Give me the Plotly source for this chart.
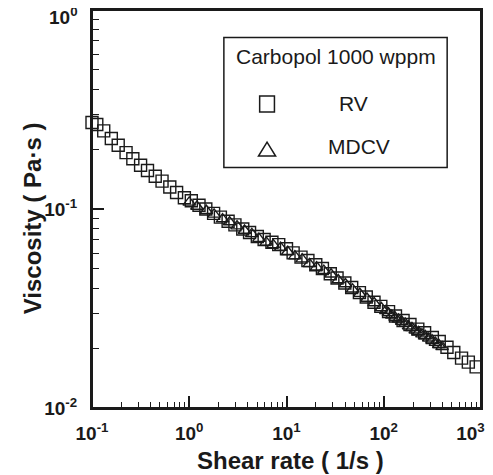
import plotly.graph_objects as go

rv_rate = [0.100, 0.112, 0.132, 0.158, 0.186, 0.224, 0.263, 0.316, 0.372, 0.447,
           0.525, 0.631, 0.741, 0.891, 1.05, 1.26, 1.48, 1.78, 2.09, 2.51,
           2.95, 3.55, 4.17, 5.01, 5.89, 7.08, 8.32, 10.0, 11.7, 14.1,
           16.6, 20.0, 23.4, 28.2, 33.1, 39.8, 46.8, 56.2, 66.1, 79.4,
           93.3, 112, 132, 158, 186, 224, 263, 316, 372, 447,
           525, 631, 741, 891, 1023]
rv_visc = [0.272, 0.266, 0.247, 0.226, 0.209, 0.192, 0.179, 0.166, 0.156, 0.146,
           0.138, 0.129, 0.121, 0.114, 0.110, 0.1045, 0.100, 0.0951, 0.0910, 0.0868,
           0.0832, 0.0794, 0.0762, 0.0727, 0.0703, 0.0681, 0.0662, 0.0631, 0.0602, 0.0573,
           0.0551, 0.0525, 0.0502, 0.0473, 0.0450, 0.0425, 0.0403, 0.0380, 0.0361, 0.0340,
           0.0324, 0.0305, 0.0290, 0.0275, 0.0263, 0.0249, 0.0239, 0.0226, 0.0216, 0.0202,
           0.0190, 0.0178, 0.0170, 0.0161, 0.0154]

mdcv_rate = [1.0, 1.2, 1.5, 1.8, 2.2, 2.6, 3.1, 3.7, 4.4, 5.2,
             6.2, 7.3, 8.7, 10.3, 12.2, 14.5, 17.2, 20.4, 24.2, 28.7,
             34.0, 40.3, 47.8, 56.7, 67.2, 79.7, 94.5, 105, 112, 121,
             131, 142, 153, 166, 180, 195, 211, 228, 247, 267,
             290, 314, 340, 368, 398]
mdcv_visc = [0.108, 0.103, 0.098, 0.094, 0.089, 0.086, 0.082, 0.078, 0.075, 0.071,
             0.068, 0.066, 0.064, 0.061, 0.058, 0.056, 0.053, 0.051, 0.049, 0.047,
             0.044, 0.042, 0.0395, 0.0375, 0.0355, 0.0337, 0.0318, 0.0308, 0.0300, 0.0292,
             0.0285, 0.0279, 0.0272, 0.0266, 0.0258, 0.0253, 0.0246, 0.0241, 0.0235, 0.0230,
             0.0224, 0.0219, 0.0213, 0.0208, 0.0203]

x_ticks = [0.1, 1, 10, 100, 1000]
# last label is nudged left with no-break spaces, as in the original
x_labels = ['<b>10<sup>-1</sup></b>', '<b>10<sup>0</sup></b>', '<b>10<sup>1</sup></b>',
            '<b>10<sup>2</sup></b>', '<b>10<sup>3</sup></b>\u00a0\u00a0\u00a0\u00a0']
y_ticks = [0.01, 0.1, 1]
# top label is written as an annotation a little below its tick (it would be cut off)
y_labels = ['<b>10<sup>-2</sup></b>', '<b>10<sup>-1</sup></b>', '']
y_top_label = '<b>10<sup>0</sup></b>'
x_minor = [m * d for d in [0.1, 1, 10, 100] for m in range(2, 10)]
y_minor = [m * d for d in [0.01, 0.1] for m in range(2, 10)]

ink = '#1a1a1a'
font = 'Liberation Sans, Arial, sans-serif'

fig = go.Figure()

fig.add_trace(go.Scatter(x=rv_rate, y=rv_visc, mode='markers', name='RV', cliponaxis=False,
                         marker=dict(symbol='square-open', size=12, color=ink,
                                     line=dict(width=1.4, color=ink))))

fig.add_trace(go.Scatter(x=mdcv_rate, y=mdcv_visc, mode='markers', name='MDCV', cliponaxis=False,
                         marker=dict(symbol='triangle-up-open', size=11, color=ink,
                                     line=dict(width=1.4, color=ink))))

axis_common = dict(type='log', showgrid=False, zeroline=False, showline=True,
                   linecolor=ink, linewidth=2, mirror=True, ticks='inside',
                   tickcolor=ink, tickwidth=1.5, ticklen=12, automargin=False,
                   ticklabeloverflow='allow',
                   tickfont=dict(family=font, size=19, color=ink))

fig.update_xaxes(range=[-1, 3.0], tickmode='array', tickvals=x_ticks, ticktext=x_labels,
                 minor=dict(tickmode='array', tickvals=x_minor, ticks='inside',
                            ticklen=6, tickcolor=ink, tickwidth=1.3),
                 ticklabelstandoff=7, **axis_common)

fig.update_yaxes(range=[-2, 0], tickmode='array', tickvals=y_ticks, ticktext=y_labels,
                 minor=dict(tickmode='array', tickvals=y_minor, ticks='inside',
                            ticklen=7, tickcolor=ink, tickwidth=1.3),
                 ticklabelstandoff=9, **axis_common)

fig.add_annotation(text=y_top_label, xref='paper', yref='paper', x=-0.03, y=0.984,
                   showarrow=False, xanchor='right', yanchor='middle',
                   font=dict(family=font, size=19, color=ink))

# plot frame
fig.add_shape(type='rect', xref='paper', yref='paper', x0=0, x1=1, y0=0, y1=1,
              line=dict(color=ink, width=2), layer='above')

# axis titles
fig.add_annotation(text='<b>Shear rate ( 1/s )</b>', xref='paper', yref='paper',
                   x=0.509, y=-0.131, showarrow=False, xanchor='center', yanchor='middle',
                   font=dict(family=font, size=24, color=ink))
fig.add_annotation(text='<b>Viscosity ( Pa·s )</b>', xref='paper', yref='paper',
                   x=-0.154, y=0.477, textangle=-90, showarrow=False,
                   xanchor='center', yanchor='middle',
                   font=dict(family=font, size=24, color=ink))

# legend box drawn by hand to match the original layout
fig.add_shape(type='rect', xref='paper', yref='paper',
              x0=0.339, x1=0.913, y0=0.604, y1=0.931,
              line=dict(color=ink, width=1.5), fillcolor='white')
fig.add_shape(type='rect', xref='paper', yref='paper',
              x0=0.431, x1=0.469, y0=0.744, y1=0.784,
              line=dict(color=ink, width=1.5))
fig.add_shape(type='path', xref='paper', yref='paper',
              path='M 0.428 0.633 L 0.472 0.633 L 0.450 0.668 Z',
              line=dict(color=ink, width=1.5))

legend_items = [
    ('Carbopol 1000 wppm', 0.627, 0.882, 21),
    ('RV', 0.671, 0.766, 21),
    ('MDCV', 0.686, 0.658, 21),
]
for txt, ax_x, ax_y, sz in legend_items:
    fig.add_annotation(text=txt, xref='paper', yref='paper', x=ax_x, y=ax_y,
                       showarrow=False, xanchor='center', yanchor='middle',
                       font=dict(family=font, size=sz, color=ink))

# the page puts the figure 8px in from the top-left corner, so the figure is
# made 8px smaller each way to fit the window
fig.update_layout(width=485, height=467,
                  margin=dict(l=84, r=12, t=2, b=67),
                  paper_bgcolor='white', plot_bgcolor='white',
                  showlegend=False,
                  font=dict(family=font, color=ink))

fig.write_html('out.html')
